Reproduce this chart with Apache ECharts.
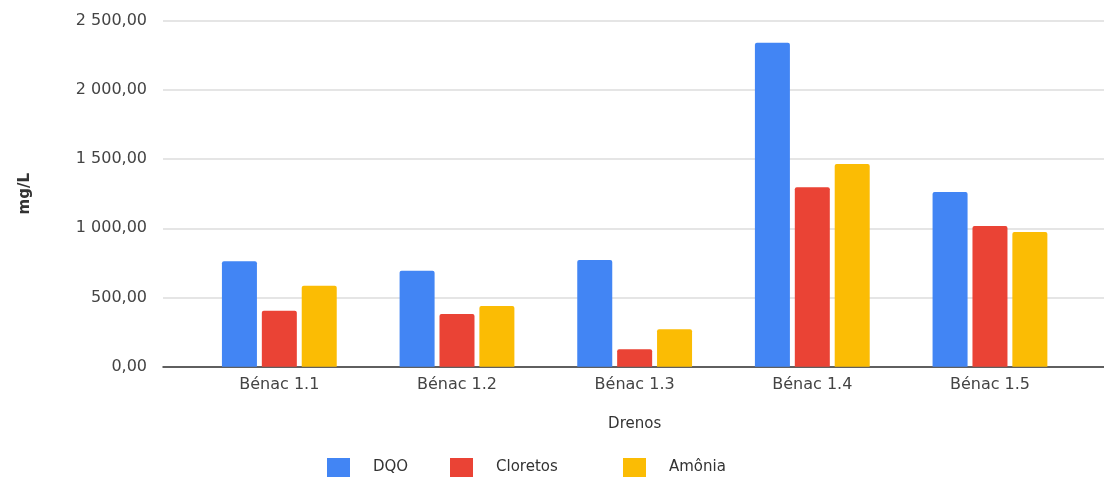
<!DOCTYPE html>
<html>
<head>
<meta charset="utf-8">
<script src="https://cdn.jsdelivr.net/npm/echarts@6/dist/echarts.min.js"></script>
<style>
  html, body { margin: 0; padding: 0; background: #ffffff; }
  #chart { width: 1104px; height: 480px; }
</style>
</head>
<body>
<div id="chart"></div>
<script>
// Drains sampled and measured concentrations (mg/L)
const categories = ['Bénac 1.1', 'Bénac 1.2', 'Bénac 1.3', 'Bénac 1.4', 'Bénac 1.5'];
const dqo = [762, 694, 771, 2341, 1262];
const cloretos = [405, 381, 126, 1296, 1017];
const amonia = [585, 439, 270, 1465, 973];
const seriesNames = ['DQO', 'Cloretos', 'Amônia'];
const yTicks = { min: 0, max: 2500, interval: 500 };

const colors = ['#4285F4', '#EA4335', '#FBBC04'];
const FONT = 'DejaVu Sans';

// "2 500,00" style: space thousands separator, comma decimal
function fmt(v) {
  const parts = v.toFixed(2).split('.');
  parts[0] = parts[0].replace(/\B(?=(\d{3})+(?!\d))/g, ' ');
  return parts[0] + ',' + parts[1];
}

const chart = echarts.init(document.getElementById('chart'), null, { renderer: 'canvas' });

const gridTop = 20.7, gridHeight = 346;

const legendLefts = [327, 450, 623];
const legends = seriesNames.map((n, i) => ({
  data: [n],
  left: legendLefts[i],
  top: 458,
  padding: 0,
  itemWidth: 23,
  itemHeight: 19,
  icon: 'rect',
  itemGap: 0,
  textStyle: { fontFamily: FONT, fontSize: 15, color: '#333', padding: [0, 0, 0, 18] }
}));

const option = {
  backgroundColor: '#ffffff',
  animation: false,
  color: colors,
  legend: legends,
  grid: [
    // frame: gridlines, value labels and baseline
    { left: 163, right: 0, top: gridTop, height: gridHeight },
    // bars
    { left: 190.5, width: 888.3, top: gridTop, height: gridHeight }
  ],
  xAxis: [
    {
      gridIndex: 0, type: 'category', data: [''],
      axisLine: { show: true, lineStyle: { color: '#333', width: 1.5 } },
      axisTick: { show: false }, axisLabel: { show: false }, splitLine: { show: false }
    },
    {
      gridIndex: 1, type: 'category', data: categories,
      axisLine: { show: false }, axisTick: { show: false },
      axisLabel: { margin: 10, fontFamily: FONT, fontSize: 16, color: '#444' },
      name: 'Drenos', nameLocation: 'middle', nameGap: 50,
      nameTextStyle: { fontFamily: FONT, fontSize: 15, color: '#333' }
    }
  ],
  yAxis: [
    {
      gridIndex: 0, type: 'value', min: yTicks.min, max: yTicks.max, interval: yTicks.interval,
      axisLine: { show: false }, axisTick: { show: false },
      axisLabel: { margin: 16, fontFamily: FONT, fontSize: 16, color: '#444', formatter: fmt },
      splitLine: { show: true, lineStyle: { color: '#dddddd', width: 1.5 } },
      name: 'mg/L', nameLocation: 'middle', nameRotate: 90, nameGap: 130,
      nameTextStyle: { fontFamily: FONT, fontSize: 15, fontWeight: 'bold', color: '#333' }
    },
    {
      gridIndex: 1, type: 'value', min: yTicks.min, max: yTicks.max, interval: yTicks.interval,
      show: false, splitLine: { show: false }
    }
  ],
  series: [dqo, cloretos, amonia].map((d, i) => ({
    name: seriesNames[i],
    type: 'bar',
    xAxisIndex: 1,
    yAxisIndex: 1,
    data: d,
    barWidth: 35,
    barGap: '14%',
    itemStyle: { color: colors[i], borderRadius: [2, 2, 0, 0] }
  }))
};

chart.setOption(option);
</script>
</body>
</html>
